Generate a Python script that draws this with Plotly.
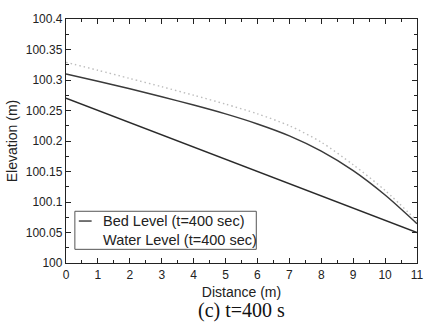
import plotly.graph_objects as go

# Data
distance = [0, 1, 2, 3, 4, 5, 6, 7, 8, 9, 10, 11]
bed_level = [100.270, 100.250, 100.230, 100.210, 100.190, 100.170, 100.150,
             100.130, 100.110, 100.090, 100.070, 100.050]
water_level = [100.310, 100.298, 100.2855, 100.2725, 100.259, 100.2445, 100.228,
               100.2085, 100.1835, 100.1515, 100.1115, 100.0645]
water_dotted = [100.329, 100.316, 100.3025, 100.289, 100.275, 100.2605, 100.2445,
                100.225, 100.198, 100.161, 100.119, 100.069]

x_ticks = [0, 1, 2, 3, 4, 5, 6, 7, 8, 9, 10, 11]
x_tick_labels = [str(v) for v in x_ticks]
y_ticks = [100.0, 100.05, 100.1, 100.15, 100.2, 100.25, 100.3, 100.35, 100.4]
y_tick_labels = ["100", "100.05", "100.1", "100.15", "100.2", "100.25",
                 "100.3", "100.35", "100.4"]

legend_labels = ["Bed Level (t=400 sec)", "Water Level (t=400 sec)"]

fig = go.Figure()
fig.add_trace(go.Scatter(x=distance, y=water_dotted, mode="lines",
                         line=dict(color="#bdbdbd", width=1.4, dash="1.5px,3px",
                                   shape="spline", smoothing=0.8),
                         showlegend=False))
fig.add_trace(go.Scatter(x=distance, y=water_level, mode="lines",
                         line=dict(color="#3a3a3a", width=1.5,
                                   shape="spline", smoothing=0.8),
                         showlegend=False))
fig.add_trace(go.Scatter(x=distance, y=bed_level, mode="lines",
                         line=dict(color="#2a2a2a", width=1.5),
                         showlegend=False))

W, H = 436, 323
ml, mr, mt, mb = 62, 18, 13, 60
pw, ph = W - ml - mr, H - mt - mb


def px_to_paper(x, y):
    return (x - ml) / pw, (H - mb - y) / ph


axis_common = dict(
    showline=True, linecolor="#222", linewidth=1.3, mirror="ticks",
    ticks="inside", ticklen=5, tickcolor="#222", tickwidth=1,
    showgrid=False, zeroline=False,
    tickfont=dict(family="Liberation Sans, Arial", size=12, color="#222"),
)

fig.update_xaxes(range=[0, 11], tickvals=x_ticks, ticktext=x_tick_labels,
                 minor=dict(ticks="inside", ticklen=3, dtick=0.5, tickcolor="#222"),
                 title=dict(text="Distance (m)", standoff=6,
                            font=dict(family="Liberation Sans, Arial", size=14, color="#222")),
                 **axis_common)
fig.update_yaxes(range=[100, 100.4], tickvals=y_ticks, ticktext=y_tick_labels,
                 minor=dict(ticks="inside", ticklen=3, dtick=0.025, tickcolor="#222"),
                 title=dict(text="Elevation (m)", standoff=4,
                            font=dict(family="Liberation Sans, Arial", size=14, color="#222")),
                 **axis_common)

# Custom legend box
x0, y0 = px_to_paper(71, 210)
x1, y1 = px_to_paper(255, 249)
fig.add_shape(type="rect", xref="paper", yref="paper", x0=x0, y0=y1, x1=x1, y1=y0,
              line=dict(color="#555", width=1), fillcolor="white", layer="above")
lx0, ly = px_to_paper(75, 220)
lx1, _ = px_to_paper(88, 220)
fig.add_shape(type="line", xref="paper", yref="paper", x0=lx0, y0=ly, x1=lx1, y1=ly,
              line=dict(color="#2a2a2a", width=1.3), layer="above")
for i, lab in enumerate(legend_labels):
    tx, ty = px_to_paper(97, 220 + i * 19)
    fig.add_annotation(text=lab, xref="paper", yref="paper", x=tx, y=ty,
                       xanchor="left", yanchor="middle", showarrow=False,
                       font=dict(family="Liberation Sans, Arial", size=14.5, color="#222"))

# Caption
cx, cy = px_to_paper(240, 312)
fig.add_annotation(text="(c) t=400 s", xref="paper", yref="paper", x=cx, y=cy,
                   xanchor="center", yanchor="middle", showarrow=False,
                   font=dict(family="Liberation Serif, Times New Roman", size=20, color="#111"))

fig.update_layout(width=W, height=H, margin=dict(l=ml, r=mr, t=mt, b=mb),
                  plot_bgcolor="white", paper_bgcolor="white")

fig.write_html("out.html")
